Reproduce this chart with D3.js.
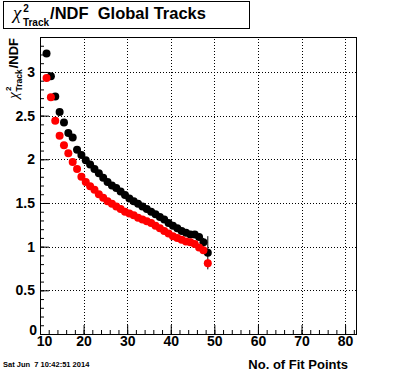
<!DOCTYPE html>
<html>
<head>
<meta charset="utf-8">
<script src="https://cdn.jsdelivr.net/npm/d3@7"></script>
<style>
body { margin: 0; background: #fff; }
text { font-family: "Liberation Sans", Arial, sans-serif; font-weight: bold; }
</style>
</head>
<body>
<div id="chart"></div>
<script>
// bin centres (number of fit points)
let fitPoints = [11.5, 12.5, 13.5, 14.5, 15.5, 16.5, 17.5, 18.5, 19.5, 20.5,
    21.5, 22.5, 23.5, 24.5, 25.5, 26.5, 27.5, 28.5, 29.5, 30.5,
    31.5, 32.5, 33.5, 34.5, 35.5, 36.5, 37.5, 38.5, 39.5, 40.5,
    41.5, 42.5, 43.5, 44.5, 45.5, 46.5, 47.5, 48.5];

// black profile
let chi2Black = [3.21, 2.95, 2.72, 2.54, 2.42, 2.30, 2.25, 2.11, 2.05, 1.99,
    1.94, 1.89, 1.84, 1.79, 1.74, 1.70, 1.67, 1.63, 1.59, 1.55,
    1.52, 1.49, 1.46, 1.43, 1.40, 1.37, 1.34, 1.31, 1.27, 1.24,
    1.21, 1.18, 1.16, 1.14, 1.14, 1.11, 1.05, 0.93];
let errBlack = [0.01, 0.01, 0.01, 0.01, 0.01, 0.01, 0.01, 0.01, 0.01, 0.01,
    0.01, 0.01, 0.01, 0.01, 0.01, 0.01, 0.01, 0.01, 0.01, 0.01,
    0.01, 0.01, 0.01, 0.01, 0.01, 0.01, 0.01, 0.01, 0.02, 0.02,
    0.02, 0.02, 0.02, 0.02, 0.03, 0.03, 0.05, 0.19];

// red profile
let chi2Red = [2.93, 2.71, 2.44, 2.27, 2.16, 2.07, 1.97, 1.89, 1.80, 1.74,
    1.69, 1.65, 1.60, 1.56, 1.52, 1.49, 1.46, 1.43, 1.40, 1.38,
    1.36, 1.33, 1.31, 1.29, 1.27, 1.24, 1.21, 1.18, 1.15, 1.12,
    1.10, 1.08, 1.06, 1.05, 1.03, 0.99, 0.96, 0.81];
let errRed = [0.01, 0.01, 0.01, 0.01, 0.01, 0.01, 0.01, 0.01, 0.01, 0.01,
    0.01, 0.01, 0.01, 0.01, 0.01, 0.01, 0.01, 0.01, 0.01, 0.01,
    0.01, 0.01, 0.01, 0.01, 0.01, 0.01, 0.01, 0.01, 0.01, 0.01,
    0.01, 0.01, 0.02, 0.02, 0.02, 0.02, 0.03, 0.05];

let xTicks = [10, 20, 30, 40, 50, 60, 70, 80];
let yTicks = [0, 0.5, 1, 1.5, 2, 2.5, 3];

let width = 396;
let height = 372;

let svg = d3.select("#chart")
    .append("svg")
    .attr("width", width)
    .attr("height", height);

svg.append("rect").attr("width", width).attr("height", height).attr("fill", "white");

let x = d3.scaleLinear().domain([10, 82.5]).range([40, 356]);
let y = d3.scaleLinear().domain([0, 3.4]).range([334, 37]);

// dotted grid
svg.append("g")
    .selectAll("line")
    .data(xTicks.slice(1))
    .enter()
    .append("line")
    .attr("x1", d => Math.round(x(d)) + 0.5)
    .attr("x2", d => Math.round(x(d)) + 0.5)
    .attr("y1", y.range()[0])
    .attr("y2", y.range()[1])
    .attr("stroke", "black")
    .attr("stroke-dasharray", "1,2");

svg.append("g")
    .selectAll("line")
    .data(yTicks.slice(1))
    .enter()
    .append("line")
    .attr("y1", d => Math.round(y(d)) + 0.5)
    .attr("y2", d => Math.round(y(d)) + 0.5)
    .attr("x1", x.range()[0])
    .attr("x2", x.range()[1])
    .attr("stroke", "black")
    .attr("stroke-dasharray", "1,2");

// axes, ticks pointing inward
let xMinor = d3.range(10, 83, 2);
let yMinor = d3.range(0, 3.41, 0.1);

svg.append("g")
    .attr("transform", "translate(0," + y.range()[0] + ")")
    .call(d3.axisBottom(x).tickValues(xMinor).tickSize(-4).tickFormat(""));
let xAxis = svg.append("g")
    .attr("transform", "translate(0," + y.range()[0] + ")")
    .call(d3.axisBottom(x).tickValues(xTicks).tickSize(-9).tickPadding(2).tickFormat(d => d));
xAxis.selectAll("text").attr("font-size", 14).attr("font-family", null).attr("fill", "black");
// first label pushed right so it clears the y axis "0"
xAxis.selectAll("text").filter(d => d === 10).attr("dx", 4);

svg.append("g")
    .attr("transform", "translate(" + x.range()[0] + ",0)")
    .call(d3.axisLeft(y).tickValues(yMinor).tickSize(-4).tickFormat(""));
let yAxis = svg.append("g")
    .attr("transform", "translate(" + x.range()[0] + ",0)")
    .call(d3.axisLeft(y).tickValues(yTicks).tickSize(-9).tickPadding(5).tickFormat(d => d));
yAxis.selectAll("text").attr("font-size", 14).attr("font-family", null).attr("fill", "black");
yAxis.selectAll("text").filter(d => d === 0).attr("dy", "0.05em").attr("dx", 2);

svg.selectAll(".domain").remove();
svg.selectAll(".tick line").attr("stroke", "black");

// frame
svg.append("rect")
    .attr("x", x.range()[0] + 0.5)
    .attr("y", y.range()[1] + 0.5)
    .attr("width", x.range()[1] - x.range()[0])
    .attr("height", y.range()[0] - y.range()[1])
    .attr("fill", "none")
    .attr("stroke", "black");

// data
function drawSeries(values, errors, color) {
    let pts = fitPoints.map((f, i) => ({f: f, v: values[i], e: errors[i]}));
    let g = svg.append("g");
    g.selectAll("line")
        .data(pts)
        .enter()
        .append("line")
        .attr("x1", d => x(d.f))
        .attr("x2", d => x(d.f))
        .attr("y1", d => y(d.v - d.e))
        .attr("y2", d => y(d.v + d.e))
        .attr("stroke", color);
    g.selectAll("circle")
        .data(pts)
        .enter()
        .append("circle")
        .attr("cx", d => x(d.f))
        .attr("cy", d => y(d.v))
        .attr("r", 4)
        .attr("fill", color);
}
drawSeries(chi2Black, errBlack, "black");
drawSeries(chi2Red, errRed, "#ff0000");

// title box
svg.append("rect")
    .attr("x", 3.5).attr("y", 1.5)
    .attr("width", 246).attr("height", 27)
    .attr("fill", "white")
    .attr("stroke", "black");

let title = svg.append("text")
    .attr("x", 13).attr("y", 19)
    .attr("font-size", 16.5)
    .style("white-space", "pre");
title.append("tspan").text("χ")
    .attr("font-family", "'Liberation Serif', serif")
    .attr("font-style", "italic").attr("font-weight", "normal").attr("font-size", 19);
title.append("tspan").text("2").attr("font-size", 10).attr("dx", 2).attr("dy", -7);
title.append("tspan").text("Track").attr("font-size", 10).attr("dx", -6).attr("dy", 14);
title.append("tspan").text("/NDF  Global Tracks").attr("dx", 1).attr("dy", -7);

// y axis title
let ytitle = svg.append("text")
    .attr("transform", "translate(18,38) rotate(-90)")
    .attr("text-anchor", "end")
    .attr("font-size", 13);
ytitle.append("tspan").text("χ")
    .attr("font-family", "'Liberation Serif', serif")
    .attr("font-style", "italic").attr("font-weight", "normal").attr("font-size", 15);
ytitle.append("tspan").text("2").attr("font-size", 8).attr("dx", 1).attr("dy", -7);
ytitle.append("tspan").text("Track").attr("font-size", 8.5).attr("dx", -5).attr("dy", 11);
ytitle.append("tspan").text("/NDF").attr("dx", 1).attr("dy", -4);

// x axis title
svg.append("text")
    .attr("x", 348).attr("y", 369)
    .attr("text-anchor", "end")
    .attr("font-size", 13)
    .text("No. of Fit Points");

// date stamp
svg.append("text")
    .attr("x", 3).attr("y", 367)
    .attr("font-size", 7.5)
    .style("white-space", "pre")
    .text("Sat Jun  7 10:42:51 2014");
</script>
</body>
</html>
